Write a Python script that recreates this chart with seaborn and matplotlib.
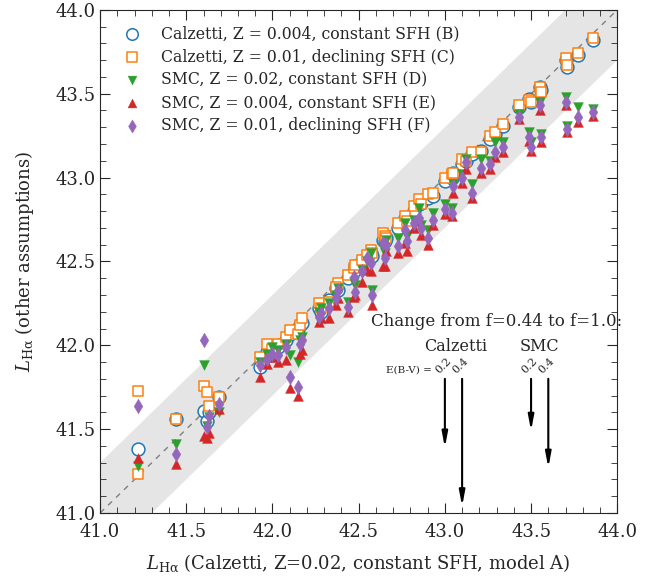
import numpy as np
import pandas as pd
import seaborn as sns
import matplotlib.pyplot as plt

# model A luminosity (x) and the other assumptions B-F (y), log erg/s
nan = np.nan
l_a = [41.22, 41.22, 41.44, 41.60, 41.62, 41.63, 41.69, 41.93, 41.97, 42.00,
       42.03, 42.08, 42.10, 42.15, 42.16, 42.17, 42.27, 42.28, 42.33, 42.38,
       42.37, 42.44, 42.47, 42.48, 42.52, 42.57, 42.58, 42.55, 42.64, 42.65,
       42.66, 42.73, 42.77, 42.78, 42.82, 42.85, 42.86, 42.90, 42.93, 43.00,
       43.04, 43.05, 43.10, 43.12, 43.16, 43.21, 43.26, 43.29, 43.34, 43.43,
       43.49, 43.50, 43.55, 43.56, 43.70, 43.71, 43.77, 43.86]
l_b = [41.38, nan, 41.56, 41.61, 41.55, 41.60, 41.69, 41.87, 41.96, 41.94,
       41.99, 42.03, 42.07, 42.10, 42.12, 42.13, 42.22, 42.20, 42.27, 42.33,
       42.34, 42.40, 42.44, 42.47, 42.50, 42.55, 42.53, 42.52, 42.63, 42.62,
       42.64, 42.70, 42.76, 42.72, 42.80, 42.84, 42.85, 42.88, 42.89, 42.98,
       43.00, 43.03, 43.08, 43.10, 43.14, 43.16, 43.23, 43.26, 43.31, 43.42,
       43.47, 43.45, 43.54, 43.52, 43.70, 43.66, 43.73, 43.82]
l_c = [41.73, 41.23, 41.56, 41.76, 41.72, 41.64, 41.69, 41.93, 42.01, 41.98,
       42.01, 42.05, 42.09, 42.07, 42.12, 42.16, 42.25, 42.22, 42.26, 42.37,
       42.35, 42.42, 42.46, 42.48, 42.51, 42.57, 42.55, 42.54, 42.67, 42.65,
       42.64, 42.73, 42.77, 42.74, 42.83, 42.87, 42.84, 42.90, 42.91, 43.00,
       43.02, 43.03, 43.11, 43.10, 43.15, 43.15, 43.25, 43.27, 43.32, 43.43,
       43.46, 43.45, 43.54, 43.51, 43.71, 43.67, 43.74, 43.83]
l_d = [41.28, nan, 41.41, 41.88, 41.52, 41.57, 41.60, 41.90, 41.95, 41.99,
       41.97, 42.01, 41.94, 41.90, 42.03, 42.05, 42.20, 42.22, 42.25, 42.34,
       42.30, 42.26, 42.38, 42.36, 42.45, 42.55, 42.33, 42.50, 42.58, 42.55,
       42.63, 42.64, 42.73, 42.65, 42.75, 42.82, 42.72, 42.69, 42.79, 42.84,
       42.82, 42.96, 43.02, 43.11, 42.96, 43.11, 43.10, 43.21, 43.21, 43.38,
       43.27, 43.21, 43.45, 43.26, 43.48, 43.31, 43.42, 43.41]
l_e = [41.33, nan, 41.29, 41.46, 41.45, 41.48, 41.62, 41.81, 41.89, 41.93,
       41.90, 41.91, 41.745, 41.70, 41.95, 41.97, 42.14, 42.16, 42.16, 42.28,
       42.24, 42.20, 42.29, 42.30, 42.38, 42.44, 42.24, 42.45, 42.47, 42.47,
       42.56, 42.55, 42.61, 42.56, 42.70, 42.74, 42.66, 42.60, 42.72, 42.78,
       42.77, 42.91, 42.97, 43.05, 42.88, 43.03, 43.05, 43.12, 43.15, 43.35,
       43.22, 43.16, 43.40, 43.21, 43.43, 43.27, 43.33, 43.37]
l_f = [41.64, nan, 41.35, 42.03, 41.51, 41.58, 41.65, 41.88, 41.92, 41.95,
       41.94, 41.99, 41.81, 41.75, 42.01, 42.03, 42.17, 42.19, 42.22, 42.33,
       42.28, 42.23, 42.41, 42.32, 42.44, 42.49, 42.30, 42.52, 42.61, 42.52,
       42.60, 42.59, 42.69, 42.62, 42.73, 42.76, 42.70, 42.64, 42.75, 42.81,
       42.79, 42.95, 43.00, 43.09, 42.91, 43.06, 43.08, 43.15, 43.18, 43.36,
       43.24, 43.18, 43.43, 43.24, 43.45, 43.29, 43.36, 43.39]

labels = ["Calzetti, Z = 0.004, constant SFH (B)",
          "Calzetti, Z = 0.01, declining SFH (C)",
          "SMC, Z = 0.02, constant SFH (D)",
          "SMC, Z = 0.004, constant SFH (E)",
          "SMC, Z = 0.01, declining SFH (F)"]

# change in L(Halpha) going from f=0.44 to f=1.0
ebv_labels = ["0.2", "0.4"]
delta_calzetti = [0.41, 0.76]
delta_smc = [0.31, 0.53]

sns.set_style("ticks")
plt.rcParams["font.family"] = "DejaVu Serif"
plt.rcParams["mathtext.fontset"] = "dejavuserif"

df = pd.DataFrame({"A": l_a, "B": l_b, "C": l_c, "D": l_d, "E": l_e, "F": l_f})

fig, ax = plt.subplots(figsize=(6.63, 5.8), dpi=100)
fig.subplots_adjust(left=0.151, right=0.931, top=0.983, bottom=0.1155)

# one-to-one line with +/- 0.3 dex band
grid = np.array([41.0, 44.0])
ax.fill_between(grid, grid - 0.3, grid + 0.3, color="#e5e5e5", lw=0, zorder=0)
ax.plot(grid, grid, ls=(0, (4, 4)), color="gray", lw=1, zorder=1)

pal = sns.color_palette("tab10")
styles = [("B", "o", 85, True), ("C", "s", 60, True), ("D", "v", 50, False),
          ("E", "^", 50, False), ("F", "d", 55, False)]
for i, (col, mk, size, hollow) in enumerate(styles):
    sns.scatterplot(data=df, x="A", y=col, marker=mk, s=size, color=pal[i],
                    edgecolor=pal[i], linewidth=1.1 if hollow else 0.3,
                    label=labels[i], ax=ax, zorder=3)
    if hollow:
        ax.collections[-1].set_facecolor("white")

ax.set_xlim(41.0, 44.0)
ax.set_ylim(41.0, 44.0)
ax.set_xticks(np.arange(41.0, 44.01, 0.5))
ax.set_yticks(np.arange(41.0, 44.01, 0.5))
ax.set_xticks(np.arange(41.0, 44.01, 0.1), minor=True)
ax.set_yticks(np.arange(41.0, 44.01, 0.1), minor=True)
ax.tick_params(which="both", direction="in", top=True, right=True, labelsize=13)
ax.tick_params(axis="x", which="major", pad=7)
ax.tick_params(which="major", length=7)
ax.tick_params(which="minor", length=4)
ax.set_xlabel(r"$L_{\rm H\alpha}$ (Calzetti, Z=0.02, constant SFH, model A)",
              fontsize=13, labelpad=8)
ax.set_ylabel(r"$L_{\rm H\alpha}$ (other assumptions)", fontsize=13, labelpad=14)

ax.legend(loc="upper left", frameon=False, fontsize=11.3, handletextpad=0.9,
          labelspacing=0.38, borderaxespad=0.5, borderpad=0.5, scatterpoints=1,
          markerscale=0.9)

# aperture-correction arrows
ax.text(43.30, 42.14, "Change from f=0.44 to f=1.0:", ha="center", va="center", fontsize=12)
ax.text(43.06, 41.99, "Calzetti", ha="center", va="center", fontsize=11.5)
ax.text(43.55, 41.99, "SMC", ha="center", va="center", fontsize=11.5)
ax.text(42.79, 41.85, "E(B-V) =", ha="center", va="center", fontsize=7.5)
y0 = 41.80
for xs, deltas in [([43.0, 43.1], delta_calzetti), ([43.5, 43.6], delta_smc)]:
    for xa, d, lab in zip(xs, deltas, ebv_labels):
        ax.annotate("", xy=(xa, y0 - d), xytext=(xa, y0),
                    arrowprops=dict(arrowstyle="-|>,head_length=0.9,head_width=0.17",
                                    color="k", lw=1.5, shrinkA=0, shrinkB=0))
        ax.text(xa - 0.01, y0 + 0.02, lab, rotation=45, ha="center", va="bottom", fontsize=8)

fig.savefig("out.png", dpi=100)
